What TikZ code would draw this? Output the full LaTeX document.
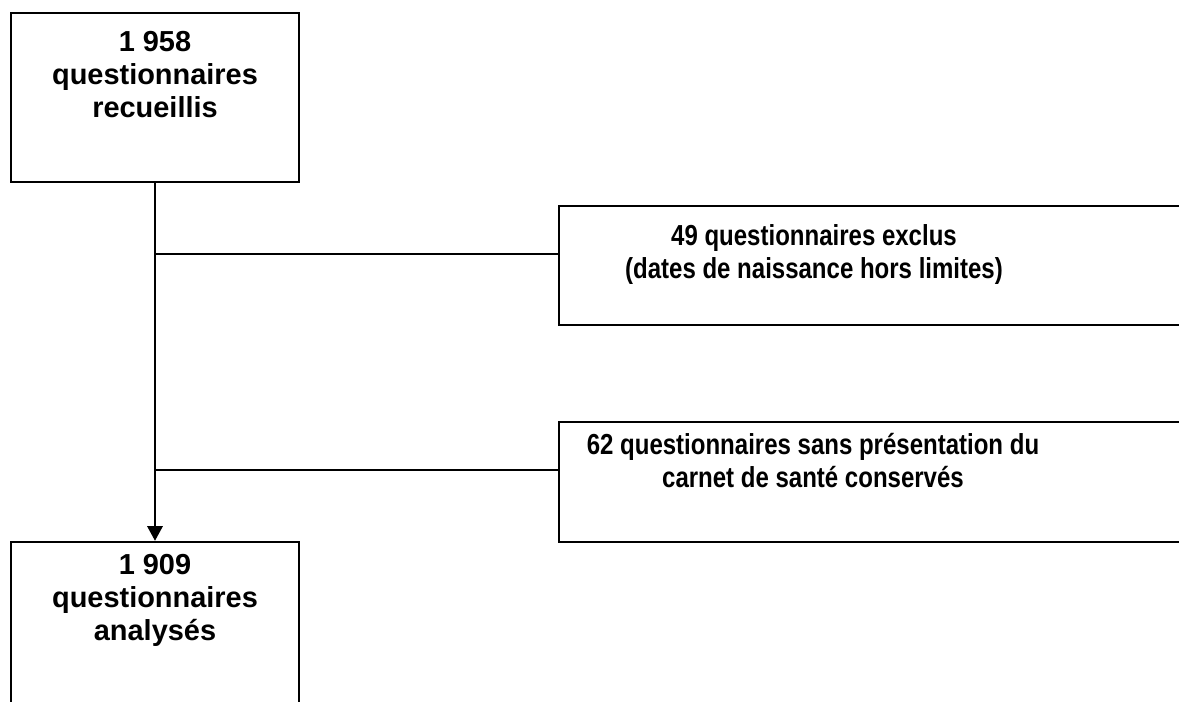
\documentclass[tikz,border=0pt]{standalone}
\usepackage{fontspec}
\setmainfont{Liberation Sans}
\newfontfamily\narrowsans{Liberation Sans}[FakeStretch=0.83]
\usetikzlibrary{arrows.meta}

\begin{document}
\begin{tikzpicture}[
  x=0.75pt,
  y=-0.75pt,
  line join=miter,
  flowbox/.style={draw=black,line width=1.8pt,rectangle,inner sep=0pt},
  boxtext/.style={font=\fontsize{21.7}{24.6}\selectfont\bfseries,align=center,inner sep=0pt,anchor=north},
  sidetext/.style={boxtext,font=\narrowsans\fontsize{21.7}{24.6}\selectfont\bfseries},
  link/.style={draw=black,line width=1.6pt},
  arrow/.style={link,-{Triangle[length=11pt,width=11.5pt]}}
]
  % Frame of the original artwork; the right and bottom boxes run off it.
  \useasboundingbox (0,0) rectangle (1179,702);
  \clip (0,0) rectangle (1179,702);

  % Boxes of the flow chart.
  \node[flowbox,minimum width=216pt,minimum height=126.75pt] (recueil) at (155,97.5) {};
  \node[flowbox,minimum width=473.25pt,minimum height=89.25pt] (exclus) at (874.5,265.5) {};
  \node[flowbox,minimum width=473.25pt,minimum height=90pt] (conserve) at (874.5,482) {};
  \node[flowbox,minimum width=216pt,minimum height=133.5pt] (analyse) at (155,631) {};

  % Texts, set near the top of each box.
  \node[boxtext] (trecueil) at (155,31.5) {1 958\\questionnaires\\recueillis};
  \node[sidetext] (texclus) at (814,224) {49 questionnaires exclus\\(dates de naissance hors limites)};
  \node[sidetext] (tconserve) at (813,433.5) {62 questionnaires sans présentation du\\carnet de santé conservés};
  \node[boxtext] (tanalyse) at (155,554) {1 909\\questionnaires\\analysés};

  % Main flow and the two side branches.
  \coordinate (j1) at (155,254);
  \coordinate (j2) at (155,470);
  \draw[arrow] (recueil.south) -- (analyse.north);
  \draw[link] (j1) -- (j1 -| exclus.west);
  \draw[link] (j2) -- (j2 -| conserve.west);
\end{tikzpicture}
\end{document}
